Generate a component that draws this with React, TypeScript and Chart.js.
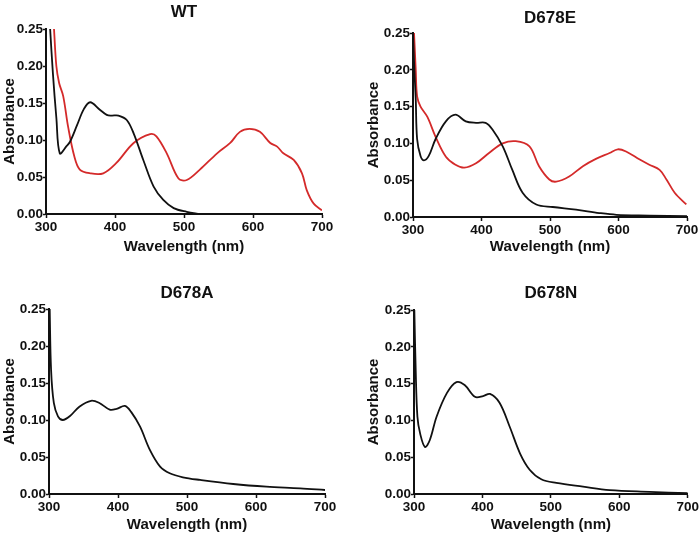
import React, { useEffect, useRef } from 'react';
import { Chart, registerables } from 'chart.js';

Chart.register(...registerables);

// ---------- data ----------
const xTicks = [300, 400, 500, 600, 700];
const yTicks = [0, 0.05, 0.1, 0.15, 0.2, 0.25];
const panelTitles = ['WT', 'D678E', 'D678A', 'D678N'];

const wtBlackWl = [306, 310, 315, 320, 330, 335, 345, 355, 364, 378, 388, 395, 405, 417, 427, 441, 456, 470, 485, 504, 523];
const wtBlackAbs = [0.25, 0.19, 0.13, 0.082, 0.092, 0.098, 0.12, 0.142, 0.151, 0.141, 0.134, 0.133, 0.133, 0.127, 0.109, 0.073, 0.037, 0.019, 0.008, 0.003, 0.0];

const wtRedWl = [311.6, 315, 319, 325, 332, 341, 349, 364, 383, 402, 427, 451, 460, 475, 492, 504, 523, 548, 567, 581, 595, 610, 625, 635, 644, 659, 671, 678, 688, 700];
const wtRedAbs = [0.25, 0.2, 0.177, 0.159, 0.118, 0.078, 0.06, 0.055, 0.055, 0.069, 0.096, 0.108, 0.105, 0.082, 0.048, 0.046, 0.06, 0.082, 0.096, 0.111, 0.115, 0.111, 0.096, 0.091, 0.082, 0.073, 0.055, 0.032, 0.014, 0.005];

const eBlackWl = [300, 302, 304, 306, 311, 316, 323, 333, 348, 362, 377, 392, 406, 416, 431, 445, 460, 480, 504, 538, 572, 597, 645, 700];
const eBlackAbs = [0.25, 0.2, 0.16, 0.106, 0.083, 0.077, 0.083, 0.106, 0.13, 0.139, 0.13, 0.128, 0.128, 0.119, 0.096, 0.064, 0.033, 0.017, 0.0136, 0.01, 0.0054, 0.003, 0.002, 0.001];

const eRedWl = [301.5, 304, 306, 311, 321, 333, 348, 362, 375, 392, 411, 431, 450, 470, 484, 499, 509, 528, 548, 567, 587, 599, 611, 631, 645, 660, 670, 682, 699];
const eRedAbs = [0.25, 0.2, 0.164, 0.15, 0.136, 0.109, 0.082, 0.071, 0.067, 0.073, 0.087, 0.1, 0.103, 0.096, 0.069, 0.051, 0.048, 0.055, 0.069, 0.079, 0.087, 0.092, 0.089, 0.078, 0.071, 0.064, 0.051, 0.033, 0.017];

const aBlackWl = [301, 303, 307, 313, 320, 330, 344, 361, 373, 388, 398, 410, 419, 432, 446, 461, 475, 494, 519, 567, 615, 664, 700];
const aBlackAbs = [0.25, 0.168, 0.123, 0.105, 0.1, 0.105, 0.118, 0.126, 0.123, 0.114, 0.115, 0.119, 0.111, 0.091, 0.06, 0.037, 0.028, 0.0226, 0.019, 0.0135, 0.0099, 0.0077, 0.0054];

const nBlackWl = [300.5, 302.5, 305, 309, 316, 323, 333, 348, 362, 374, 389, 401, 411, 425, 440, 455, 469, 486, 508, 547, 586, 644, 700];
const nBlackAbs = [0.25, 0.168, 0.105, 0.082, 0.064, 0.073, 0.105, 0.137, 0.152, 0.148, 0.132, 0.133, 0.136, 0.124, 0.091, 0.055, 0.033, 0.02, 0.015, 0.01, 0.0054, 0.003, 0.001];

// ---------- layout / style ----------
const FONT = '"Liberation Sans", Arial, sans-serif';
const BLACK = '#111111';
const RED = '#d42a2a';
const CW = 350;
const CH = 267;

type Series = { wl: number[]; abs: number[]; color: string };
type PanelCfg = {
  title: string;
  x: number; y: number;
  left: number; right: number; top: number; bottom: number;
  titleY: number;
  xTitlePad: number;
  yTitlePad: number;
  series: Series[];
};

const panels: PanelCfg[] = [
  {
    title: panelTitles[0], x: 0, y: 0, left: 46, right: 322, top: 29, bottom: 214, titleY: 12, xTitlePad: 11, yTitlePad: 1,
    series: [
      { wl: wtBlackWl, abs: wtBlackAbs, color: BLACK },
      { wl: wtRedWl, abs: wtRedAbs, color: RED },
    ],
  },
  {
    title: panelTitles[1], x: 350, y: 0, left: 63, right: 337, top: 33, bottom: 217, titleY: 18, xTitlePad: 11, yTitlePad: 15,
    series: [
      { wl: eBlackWl, abs: eBlackAbs, color: BLACK },
      { wl: eRedWl, abs: eRedAbs, color: RED },
    ],
  },
  {
    title: panelTitles[2], x: 0, y: 267, left: 49, right: 325, top: 42, bottom: 227, titleY: 26, xTitlePad: 0, yTitlePad: 0.5,
    series: [{ wl: aBlackWl, abs: aBlackAbs, color: BLACK }],
  },
  {
    title: panelTitles[3], x: 350, y: 267, left: 64, right: 338, top: 43, bottom: 227, titleY: 26, xTitlePad: 0, yTitlePad: 15,
    series: [{ wl: nBlackWl, abs: nBlackAbs, color: BLACK }],
  },
];

function Panel({ cfg }: { cfg: PanelCfg }) {
  const ref = useRef<HTMLCanvasElement | null>(null);
  useEffect(() => {
    if (!ref.current) return;
    const titleLH = 17 * 1.2;
    const titleTop = cfg.titleY - titleLH / 2;
    const chart = new Chart(ref.current, {
      type: 'line',
      data: {
        datasets: cfg.series.map((s) => ({
          data: s.wl.map((w, i) => ({ x: w, y: s.abs[i] })),
          borderColor: s.color,
          borderWidth: 1.8,
          pointRadius: 0,
          tension: 0.35,
          fill: false,
        })),
      },
      options: {
        animation: false,
        responsive: false,
        maintainAspectRatio: false,
        layout: { padding: { left: 0, right: CW - cfg.right, top: 0, bottom: 0 } },
        plugins: {
          legend: { display: false },
          tooltip: { enabled: false },
          title: {
            display: true,
            text: cfg.title,
            color: BLACK,
            fullSize: false,
            font: { family: FONT, size: 17, weight: 'bold' },
            padding: { top: titleTop, bottom: cfg.top - titleTop - titleLH },
          },
        },
        scales: {
          x: {
            type: 'linear',
            min: 300,
            max: 700,
            afterFit: (s: any) => { s.height = CH - cfg.bottom; },
            afterBuildTicks: (s: any) => { s.ticks = xTicks.map((v) => ({ value: v })); },
            ticks: {
              color: BLACK,
              padding: 1,
              maxRotation: 0,
              font: { family: FONT, size: 13.5, weight: 'bold' },
              callback: (v: any) => String(v),
            },
            grid: { display: true, drawOnChartArea: false, drawTicks: true, tickLength: 4, color: BLACK, tickWidth: 1.5 },
            border: { display: true, color: BLACK, width: 2 },
            title: {
              display: true,
              text: 'Wavelength (nm)',
              color: BLACK,
              font: { family: FONT, size: 15, weight: 'bold' },
              padding: { top: 0, bottom: cfg.xTitlePad },
            },
          },
          y: {
            type: 'linear',
            min: 0,
            max: 0.25,
            afterFit: (s: any) => { s.width = cfg.left; },
            afterBuildTicks: (s: any) => { s.ticks = yTicks.map((v) => ({ value: v })); },
            ticks: {
              color: BLACK,
              padding: 0,
              font: { family: FONT, size: 13.5, weight: 'bold' },
              callback: (v: any) => Number(v).toFixed(2),
            },
            grid: { display: true, drawOnChartArea: false, drawTicks: true, tickLength: 3, color: BLACK, tickWidth: 1.5 },
            border: { display: true, color: BLACK, width: 2 },
            title: {
              display: true,
              text: 'Absorbance',
              color: BLACK,
              font: { family: FONT, size: 15, weight: 'bold' },
              padding: { top: cfg.yTitlePad, bottom: 0 },
            },
          },
        },
      },
    } as any);
    return () => chart.destroy();
  }, [cfg]);
  return (
    <canvas
      ref={ref}
      width={CW}
      height={CH}
      style={{ position: 'absolute', left: cfg.x, top: cfg.y, width: CW, height: CH }}
    />
  );
}

export default function App() {
  return (
    <div style={{ position: 'absolute', left: 0, top: 0, width: 700, height: 534, background: '#fff' }}>
      {panels.map((p) => (
        <Panel key={p.title} cfg={p} />
      ))}
    </div>
  );
}
